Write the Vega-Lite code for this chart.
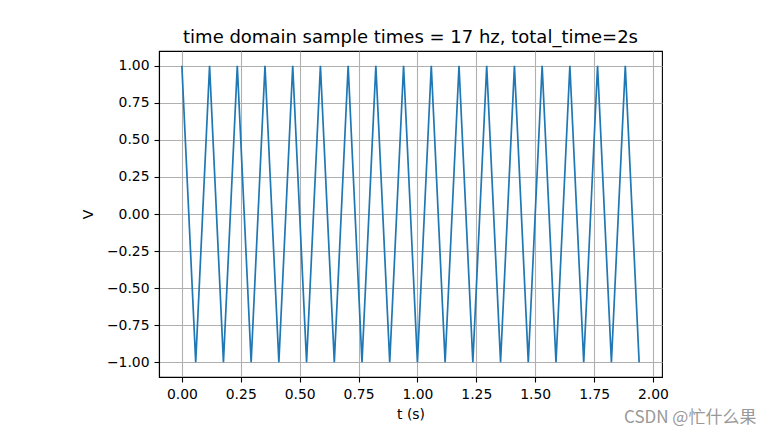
{
  "$schema": "https://vega.github.io/schema/vega-lite/v6.json",
  "width": 503,
  "height": 326,
  "autosize": {"type": "none"},
  "padding": {"left": 159, "top": 51, "right": 112, "bottom": 59},
  "background": "white",
  "title": {
    "text": "time domain sample times = 17 hz, total_time=2s",
    "font": "DejaVu Sans",
    "fontSize": 18,
    "fontWeight": "normal",
    "color": "#000000",
    "anchor": "middle",
    "baseline": "alphabetic",
    "offset": -10
  },
  "config": {
    "view": {"stroke": "#000000", "strokeWidth": 1.1},
    "axis": {
      "labelFont": "DejaVu Sans",
      "labelFontSize": 13.9,
      "labelColor": "#000000",
      "titleFont": "DejaVu Sans",
      "titleFontSize": 13.9,
      "titleFontWeight": "normal",
      "titleColor": "#000000",
      "gridColor": "#b0b0b0",
      "gridWidth": 1.1,
      "gridOpacity": 1,
      "tickColor": "#000000",
      "tickWidth": 1.1,
      "tickSize": 5,
      "domainColor": "#000000",
      "domainWidth": 1.1,
      "labelPadding": 5
    }
  },
  "datasets": {
    "signal": [
      {"t": 0.0, "v": 1}, {"t": 0.0588, "v": -1}, {"t": 0.1176, "v": 1}, {"t": 0.1765, "v": -1},
      {"t": 0.2353, "v": 1}, {"t": 0.2941, "v": -1}, {"t": 0.3529, "v": 1}, {"t": 0.4118, "v": -1},
      {"t": 0.4706, "v": 1}, {"t": 0.5294, "v": -1}, {"t": 0.5882, "v": 1}, {"t": 0.6471, "v": -1},
      {"t": 0.7059, "v": 1}, {"t": 0.7647, "v": -1}, {"t": 0.8235, "v": 1}, {"t": 0.8824, "v": -1},
      {"t": 0.9412, "v": 1}, {"t": 1.0, "v": -1}, {"t": 1.0588, "v": 1}, {"t": 1.1176, "v": -1},
      {"t": 1.1765, "v": 1}, {"t": 1.2353, "v": -1}, {"t": 1.2941, "v": 1}, {"t": 1.3529, "v": -1},
      {"t": 1.4118, "v": 1}, {"t": 1.4706, "v": -1}, {"t": 1.5294, "v": 1}, {"t": 1.5882, "v": -1},
      {"t": 1.6471, "v": 1}, {"t": 1.7059, "v": -1}, {"t": 1.7647, "v": 1}, {"t": 1.8235, "v": -1},
      {"t": 1.8824, "v": 1}, {"t": 1.9412, "v": -1}
    ],
    "mark": [{"label": "CSDN @忙什么果"}]
  },
  "layer": [
    {
      "data": {"name": "signal"},
      "mark": {"type": "line", "color": "#1f77b4", "strokeWidth": 1.7, "clip": true},
      "encoding": {
        "x": {
          "field": "t",
          "type": "quantitative",
          "scale": {"domain": [-0.09706, 2.03824], "nice": false, "zero": false},
          "axis": {
            "values": [0, 0.25, 0.5, 0.75, 1, 1.25, 1.5, 1.75, 2],
            "format": ".2f",
            "title": "t (s)",
            "titlePadding": 7
          }
        },
        "y": {
          "field": "v",
          "type": "quantitative",
          "scale": {"domain": [-1.1, 1.1], "nice": false, "zero": false},
          "axis": {
            "values": [-1, -0.75, -0.5, -0.25, 0, 0.25, 0.5, 0.75, 1],
            "format": ".2f",
            "title": "V",
            "titlePadding": 11
          }
        }
      }
    },
    {
      "data": {"name": "mark"},
      "mark": {
        "type": "text",
        "font": "Noto Sans CJK SC",
        "fontSize": 17,
        "color": "#999999",
        "align": "center",
        "baseline": "middle"
      },
      "encoding": {
        "x": {"datum": 2.158, "type": "quantitative"},
        "y": {"datum": -1.376, "type": "quantitative"},
        "text": {"field": "label"}
      }
    }
  ]
}
